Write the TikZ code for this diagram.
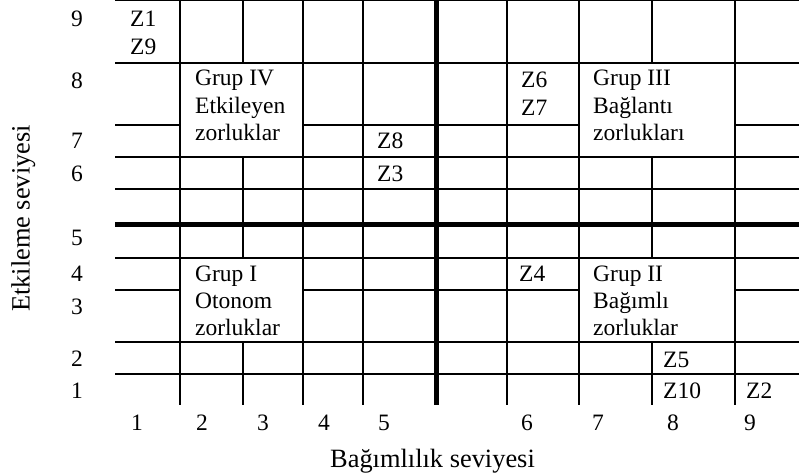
\documentclass[tikz,border=0pt]{standalone}
\usepackage{fontspec}
\setmainfont{Liberation Serif}
\newcommand{\cellfont}{\fontsize{23.5}{28}\selectfont}
\newcommand{\axfont}{\fontsize{26.4}{31}\selectfont}
\begin{document}
\begin{tikzpicture}[x=1pt,y=-1pt,
  gridline/.style={line width=2pt},
  heavy/.style={line width=5pt},
  celltext/.style={anchor=base west, inner sep=0pt, font=\cellfont},
  axlab/.style={anchor=base, inner sep=0pt, font=\cellfont},
  axtitle/.style={anchor=base, inner sep=0pt, font=\axfont}]
\useasboundingbox (0,0) rectangle (799,474);
% horizontal rules
\foreach \yy in {0,63,157,189,257.5,342,374}
  \draw[gridline] (115,\yy) -- (799,\yy);
\foreach \yy in {125,290}{
  \draw[gridline] (115,\yy) -- (179.5,\yy);
  \draw[gridline] (303,\yy) -- (579,\yy);
  \draw[gridline] (734.5,\yy) -- (799,\yy);
}
% vertical rules
\foreach \xx in {179.5,303,363,507,579,734.5}
  \draw[gridline] (\xx,0) -- (\xx,405);
\foreach \xx in {243,651.5}{
  \draw[gridline] (\xx,0) -- (\xx,63);
  \draw[gridline] (\xx,157) -- (\xx,257.5);
  \draw[gridline] (\xx,342) -- (\xx,405);
}
% heavy quadrant rules
\draw[heavy] (115,224) -- (799,224);
\draw[heavy] (436,0) -- (436,405);
% cell texts
\node[celltext] (z1) at (130,26) {Z1};
\node[celltext] (z9) at (130,54) {Z9};
\node[celltext] (g4a) at (195,85) {Grup IV};
\node[celltext] (g4b) at (195,113) {Etkileyen};
\node[celltext] (g4c) at (195,140) {zorluklar};
\node[celltext] (z8) at (377,148) {Z8};
\node[celltext] (z3) at (377,181) {Z3};
\node[celltext] (z6) at (521,87) {Z6};
\node[celltext] (z7) at (521,115) {Z7};
\node[celltext] (g3a) at (593,85) {Grup III};
\node[celltext] (g3b) at (593,113) {Bağlantı};
\node[celltext] (g3c) at (593,140) {zorlukları};
\node[celltext] (g1a) at (195,281) {Grup I};
\node[celltext] (g1b) at (195,308) {Otonom};
\node[celltext] (g1c) at (195,335) {zorluklar};
\node[celltext] (z4) at (519,281) {Z4};
\node[celltext] (g2a) at (593,281) {Grup II};
\node[celltext] (g2b) at (593,308) {Bağımlı};
\node[celltext] (g2c) at (593,335) {zorluklar};
\node[celltext] (z5) at (663,367) {Z5};
\node[celltext] (z10) at (663,398) {Z10};
\node[celltext] (z2) at (746,398) {Z2};
% row labels
\node[axlab] (r9) at (77,26) {9};
\node[axlab] (r8) at (77,88) {8};
\node[axlab] (r7) at (77,148) {7};
\node[axlab] (r6) at (77,181) {6};
\node[axlab] (r5) at (77,245) {5};
\node[axlab] (r4) at (77,281) {4};
\node[axlab] (r3) at (77,314) {3};
\node[axlab] (r2) at (77,366) {2};
\node[axlab] (r1) at (77,398) {1};
% column labels
\node[axlab] (k1) at (137,430) {1};
\node[axlab] (k2) at (202,430) {2};
\node[axlab] (k3) at (263,430) {3};
\node[axlab] (k4) at (324,430) {4};
\node[axlab] (k5) at (384,430) {5};
\node[axlab] (k6) at (527,430) {6};
\node[axlab] (k7) at (598,430) {7};
\node[axlab] (k8) at (673,430) {8};
\node[axlab] (k9) at (750,430) {9};
% axis titles
\node[axtitle] (xtitle) at (432.5,467.5) {Bağımlılık seviyesi};
\node[axtitle, rotate=90] (ytitle) at (29.5,218.5) {Etkileme seviyesi};
\end{tikzpicture}
\end{document}
